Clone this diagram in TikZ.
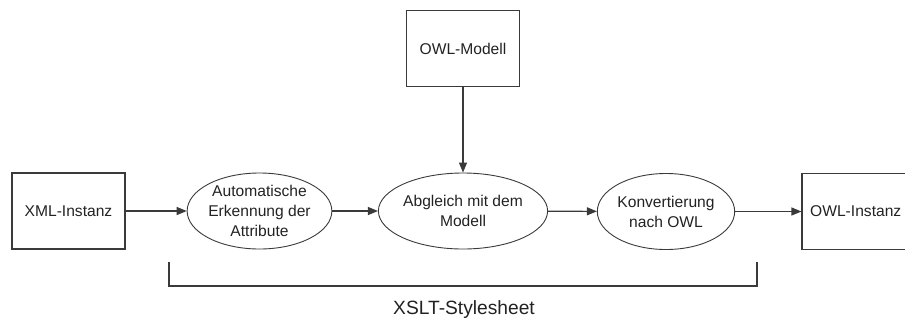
\documentclass[tikz,border=0pt]{standalone}
\usepackage{fontspec}
\setmainfont{Liberation Sans}
\usetikzlibrary{shapes.geometric,arrows.meta}
\definecolor{linegray}{HTML}{3A3A3A}
\definecolor{textgray}{HTML}{222222}
\begin{document}
\begin{tikzpicture}[x=1pt,y=-1pt,
  every node/.style={font=\fontsize{15.6}{20}\selectfont, text=textgray, align=center, inner sep=0pt},
  box/.style={draw=linegray, line width=1.1pt, minimum width=113pt, minimum height=76pt},
  proc/.style={ellipse, draw=linegray, line width=0.9pt, minimum width=136pt, minimum height=76pt},
  flow/.style={draw=linegray, line width=1.1pt, -{Triangle[length=10pt,width=8pt]}}]
  \useasboundingbox (0,0) rectangle (905,322);
  \begin{scope}
    \clip (0,0) rectangle (905,322);
    \node[box] (xml) at (68.5,211) {XML-Instanz};
    \node[box] (owlm) at (463,48.5) {OWL-Modell};
    \node[box] (owli) at (858.5,211.5) {};
    \node[anchor=west] (owlitext) at (810,211) {OWL-Instanz};
    \node[proc] (auto) at (259.5,211) {Automatische\\Erkennung der\\Attribute};
    \node[proc] (abgl) at (463,211) {Abgleich mit dem\\Modell};
    \node[proc] (konv) at (666,211.5) {Konvertierung\\nach OWL};
  \end{scope}
  \draw[flow] (xml) -- (auto);
  \draw[flow] (auto) -- (abgl);
  \draw[flow] (abgl) -- (konv);
  \draw[flow] (konv) -- (owli.west |- konv);
  \draw[flow] (owlm) -- (abgl);
  % bracket spanning the three XSLT steps
  \coordinate (bl) at (169,262);
  \coordinate (br) at (757,262);
  \draw[draw=linegray, line width=1.1pt] (bl) -- ++(0,24) -| (br);
  \node[font=\fontsize{19.2}{23}\selectfont] (xslt) at (464,310) {XSLT-Stylesheet};
\end{tikzpicture}
\end{document}
